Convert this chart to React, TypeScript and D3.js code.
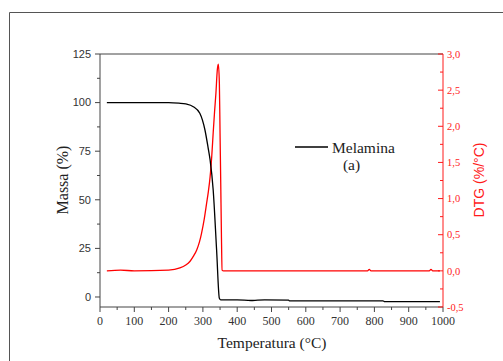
import React from "react";
import * as d3 from "d3";

const xTicks = [0, 100, 200, 300, 400, 500, 600, 700, 800, 900, 1000];
const leftTicks = [0, 25, 50, 75, 100, 125];
const rightTicks = [-0.5, 0, 0.5, 1.0, 1.5, 2.0, 2.5, 3.0];

const tgTemp = [20, 100, 200, 230, 250, 272, 291, 306, 315, 321, 330, 340, 348, 352, 400, 440, 460, 480, 550, 552, 700, 825, 830, 991];
const tgMass = [100, 100, 100, 99.7, 99.3, 97.9, 94.5, 85.9, 77, 70.5, 55, 24, -0.7, -1.5, -1.5, -1.8, -1.6, -1.5, -1.6, -2.0, -2.0, -2.0, -2.4, -2.4];

const dtgTemp = [20, 60, 100, 200, 233, 250, 262, 272, 282, 290, 296, 304, 311, 316, 321, 326, 330, 334, 338, 342, 345, 348, 350, 352, 354, 356, 360, 500, 700, 780, 785, 790, 900, 960, 965, 970, 991];
const dtgVal = [0, 0.01, 0, 0.01, 0.04, 0.08, 0.13, 0.2, 0.29, 0.4, 0.52, 0.72, 0.94, 1.1, 1.3, 1.6, 1.91, 2.2, 2.46, 2.78, 2.86, 2.6, 1.9, 1.22, 0.5, 0.01, 0, 0, 0, 0, 0.02, 0, 0, 0, 0.02, 0, 0];

const W = 503, H = 361;
const L = 100, R = 443, T = 54, B = 307;
const SERIF = "'Liberation Serif', 'Times New Roman', serif";
const SANS = "'Liberation Sans', Arial, sans-serif";

export default function App() {
  const x = d3.scaleLinear().domain([0, 1000]).range([L, R]);
  const yL = d3.scaleLinear().domain([-5.15, 125]).range([B, T]);
  const yR = d3.scaleLinear().domain([-0.5, 3.0]).range([B, T]);

  const tgLine = d3.line<number>().curve(d3.curveMonotoneX).x((d, i) => x(tgTemp[i])).y((d) => yL(d))(tgMass) || "";
  const dtgLine = d3.line<number>().curve(d3.curveMonotoneX).x((d, i) => x(dtgTemp[i])).y((d) => yR(d))(dtgVal) || "";

  const xMinor = d3.range(50, 1000, 100);
  const lMinor = d3.range(12.5, 125, 25);
  const rMinor = d3.range(-0.25, 3.0, 0.5);
  const axisCol = "#444";
  const red = "#ff1a1a";

  return (
    <svg width={W} height={H} style={{ position: "absolute", left: 0, top: 0, background: "#fff" }}>
      <rect x={0} y={0} width={W} height={H} fill="#fff" />
      <line x1={9.5} y1={12.5} x2={W} y2={12.5} stroke="#555" strokeWidth={1} />
      <line x1={9.5} y1={12.5} x2={9.5} y2={H} stroke="#555" strokeWidth={1} />

      <line x1={L} y1={T} x2={R} y2={T} stroke={axisCol} strokeWidth={1} />
      <line x1={L} y1={T} x2={L} y2={B} stroke={axisCol} strokeWidth={1} />
      {leftTicks.map((t) => (
        <g key={"l" + t}>
          <line x1={L - 5} x2={L} y1={yL(t)} y2={yL(t)} stroke={axisCol} />
          <text x={L - 9} y={yL(t)} dy="0.35em" textAnchor="end" fontFamily={SANS} fontSize={11} fill="#333">{t}</text>
        </g>
      ))}
      {lMinor.map((t) => (
        <line key={"lm" + t} x1={L - 3} x2={L} y1={yL(t)} y2={yL(t)} stroke={axisCol} />
      ))}
      <line x1={L} y1={B} x2={R} y2={B} stroke={axisCol} strokeWidth={1} />
      {xTicks.map((t) => (
        <g key={"x" + t}>
          <line x1={x(t)} x2={x(t)} y1={B} y2={B + 5} stroke={axisCol} />
          <text x={x(t)} y={325} textAnchor="middle" fontFamily={SERIF} fontSize={12} fill="#333">{t}</text>
        </g>
      ))}
      {xMinor.map((t) => (
        <line key={"xm" + t} x1={x(t)} x2={x(t)} y1={B} y2={B + 3} stroke={axisCol} />
      ))}
      <line x1={R} y1={T} x2={R} y2={B} stroke={red} strokeWidth={1} />
      {rightTicks.map((t) => (
        <g key={"r" + t}>
          <line x1={R - 5} x2={R} y1={yR(t)} y2={yR(t)} stroke={red} />
          <text x={R + 4} y={yR(t)} dy="0.35em" textAnchor="start" fontFamily={SERIF} fontSize={10.5} fill={red}>{t.toFixed(1).replace(".", ",")}</text>
        </g>
      ))}
      {rMinor.map((t) => (
        <line key={"rm" + t} x1={R - 3} x2={R} y1={yR(t)} y2={yR(t)} stroke={red} />
      ))}

      <path d={dtgLine} fill="none" stroke="#ff0000" strokeWidth={1.3} />
      <path d={tgLine} fill="none" stroke="#000" strokeWidth={1.3} />

      <line x1={295} x2={328} y1={147} y2={147} stroke="#000" strokeWidth={1.3} />
      <text x={332} y={152.5} fontFamily={SERIF} fontSize={15.5} fill="#222">Melamina</text>
      <text x={351.5} y={170} textAnchor="middle" fontFamily={SERIF} fontSize={15.5} fill="#222">(a)</text>

      <text transform="translate(68,180) rotate(-90)" textAnchor="middle" fontFamily={SERIF} fontSize={16} fill="#222">Massa (%)</text>
      <text x={272} y={348} textAnchor="middle" fontFamily={SERIF} fontSize={15.5} fill="#222">Temperatura (°C)</text>
      <text transform="translate(484,180) rotate(-90)" textAnchor="middle" fontFamily={SANS} fontSize={14} fill={red}>DTG (%/°C)</text>
    </svg>
  );
}
